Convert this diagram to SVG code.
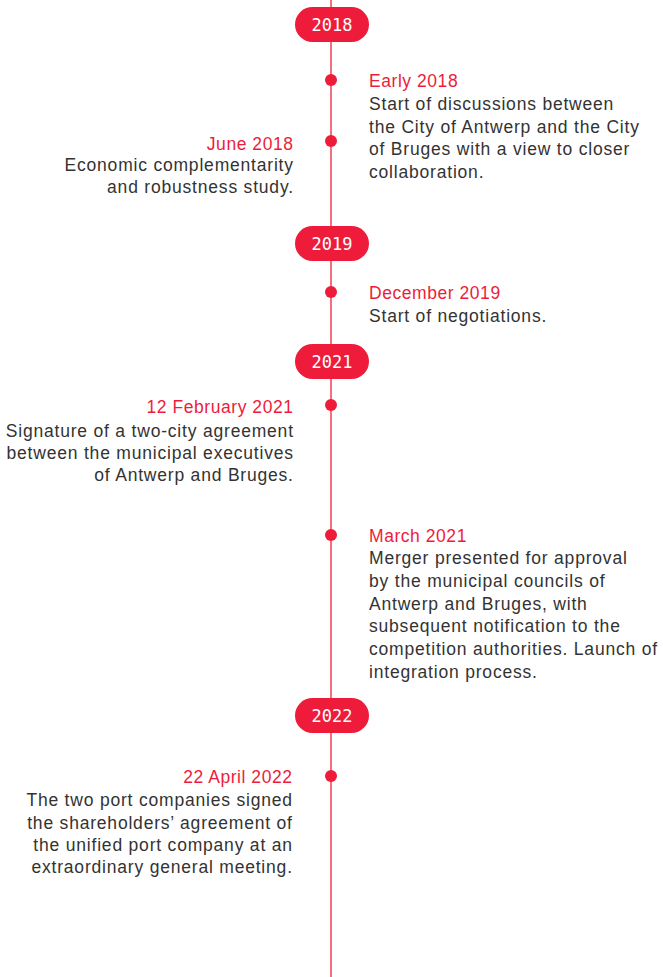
<svg xmlns="http://www.w3.org/2000/svg" width="663" height="977" viewBox="0 0 663 977">
<style>
.badge{fill:#ee1c3a}
.yr{font-family:"DejaVu Sans Mono",monospace;font-size:17px;fill:#fff;text-anchor:middle}
.dot{fill:#ee1c3a}
.h{font-family:"Liberation Sans",Arial,sans-serif;font-size:17.5px;fill:#ee1c3a;letter-spacing:0.55px}
.b{font-family:"Liberation Sans",Arial,sans-serif;font-size:17.5px;fill:#333;letter-spacing:0.8px}
.r{text-anchor:end}
</style>
<rect width="663" height="977" fill="#fff"/>
<g id="connectors">
<line x1="331" y1="0" x2="331" y2="977" stroke="#f4707f" stroke-width="2"/>
</g>
<g id="y2018"><rect class="badge" x="295" y="7" width="74" height="35" rx="17.5"/><text class="yr" x="332" y="30.5">2018</text></g>
<g id="e1"><circle class="dot" cx="331" cy="80" r="6"/>
<text class="h" x="369" y="87">Early 2018</text>
<text class="b" x="369" y="110">Start of discussions between</text>
<text class="b" x="369" y="133">the City of Antwerp and the City</text>
<text class="b" x="369" y="155">of Bruges with a view to closer</text>
<text class="b" x="369" y="178">collaboration.</text></g>
<g id="e2"><circle class="dot" cx="331" cy="141" r="6"/>
<text class="h r" x="293.5" y="150">June 2018</text>
<text class="b r" x="293.8" y="171">Economic complementarity</text>
<text class="b r" x="293.8" y="193">and robustness study.</text></g>
<g id="y2019"><rect class="badge" x="295" y="226" width="74" height="35" rx="17.5"/><text class="yr" x="332" y="249.5">2019</text></g>
<g id="e3"><circle class="dot" cx="331" cy="292" r="6"/>
<text class="h" x="369" y="299">December 2019</text>
<text class="b" x="369" y="322">Start of negotiations.</text></g>
<g id="y2021"><rect class="badge" x="295" y="344" width="74" height="35" rx="17.5"/><text class="yr" x="332" y="367.5">2021</text></g>
<g id="e4"><circle class="dot" cx="331" cy="405" r="6"/>
<text class="h r" x="293.5" y="413">12 February 2021</text>
<text class="b r" x="293.8" y="437">Signature of a two-city agreement</text>
<text class="b r" x="293.8" y="459">between the municipal executives</text>
<text class="b r" x="293.8" y="481">of Antwerp and Bruges.</text></g>
<g id="e5"><circle class="dot" cx="331" cy="535" r="6"/>
<text class="h" x="369" y="542">March 2021</text>
<text class="b" x="369" y="564">Merger presented for approval</text>
<text class="b" x="369" y="587">by the municipal councils of</text>
<text class="b" x="369" y="610">Antwerp and Bruges, with</text>
<text class="b" x="369" y="632">subsequent notification to the</text>
<text class="b" x="369" y="655">competition authorities. Launch of</text>
<text class="b" x="369" y="678">integration process.</text></g>
<g id="y2022"><rect class="badge" x="295" y="698" width="74" height="35" rx="17.5"/><text class="yr" x="332" y="721.5">2022</text></g>
<g id="e6"><circle class="dot" cx="331" cy="776" r="6"/>
<text class="h r" x="292.5" y="783">22 April 2022</text>
<text class="b r" x="292.8" y="806">The two port companies signed</text>
<text class="b r" x="292.8" y="829">the shareholders’ agreement of</text>
<text class="b r" x="292.8" y="851">the unified port company at an</text>
<text class="b r" x="292.8" y="873">extraordinary general meeting.</text></g>
</svg>
